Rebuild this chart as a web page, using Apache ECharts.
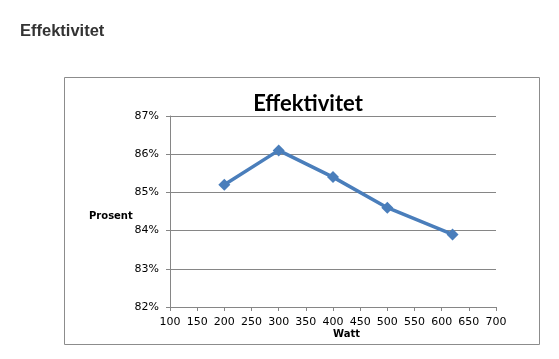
<!DOCTYPE html>
<html>
<head>
<meta charset="utf-8">
<script src="https://cdn.jsdelivr.net/npm/echarts@6/dist/echarts.min.js"></script>
<style>
html,body{margin:0;padding:0;background:#fff;}
#chart{width:559px;height:359px;}
</style>
</head>
<body>
<div id="chart"></div>
<script>
const pageTitle = "Effektivitet";
const chartTitle = "Effektivitet";
const xName = "Watt";
const yName = "Prosent";
const watt = [200, 300, 400, 500, 620];
const efficiency = [85.2, 86.1, 85.4, 84.6, 83.9];

const chart = echarts.init(document.getElementById('chart'), null, {renderer: 'canvas'});
chart.setOption({
  animation: false,
  backgroundColor: '#fff',
  title: {
    text: chartTitle,
    left: 303, top: 88, textAlign: 'center',
    textStyle: {fontFamily: 'Lato', fontWeight: 'bold', fontSize: 22, color: '#000'}
  },
  graphic: [
    {type: 'text', left: 20, top: 23,
     style: {text: pageTitle, fontFamily: 'Liberation Sans', fontWeight: 'bold', fontSize: 16.5, fill: '#333'}},
    {type: 'rect', shape: {x: 64.5, y: 77.5, width: 475, height: 267},
     style: {fill: 'none', stroke: '#8c8c8c', lineWidth: 1}, z: -1},
    {type: 'text', left: 89, top: 211,
     style: {text: yName, fontFamily: 'DejaVu Sans', fontWeight: 'bold', fontSize: 10, fill: '#000'}},
    {type: 'text', left: 333, top: 329,
     style: {text: xName, fontFamily: 'DejaVu Sans', fontWeight: 'bold', fontSize: 10, fill: '#000'}}
  ],
  grid: {left: 170, right: 63, top: 116, bottom: 52},
  xAxis: {
    type: 'value', min: 100, max: 700, interval: 50,
    axisLine: {show: true, lineStyle: {color: '#868686', width: 1}},
    axisTick: {show: true, length: 4, lineStyle: {color: '#868686'}},
    splitLine: {show: false},
    axisLabel: {margin: 10, fontFamily: 'DejaVu Sans', fontSize: 11, color: '#000'}
  },
  yAxis: {
    type: 'value', min: 82, max: 87, interval: 1,
    axisLine: {show: true, lineStyle: {color: '#868686', width: 1}},
    axisTick: {show: true, length: 4, lineStyle: {color: '#868686'}},
    splitLine: {show: true, lineStyle: {color: '#868686', width: 1}},
    axisLabel: {margin: 11, fontFamily: 'DejaVu Sans', fontSize: 11, color: '#000', formatter: '{value}%'}
  },
  series: [{
    type: 'line',
    data: watt.map((w, i) => [w, efficiency[i]]),
    symbol: 'diamond', symbolSize: 12,
    lineStyle: {color: '#4a7ebb', width: 3.5},
    itemStyle: {color: '#4a7ebb'}
  }]
});
</script>
</body>
</html>
